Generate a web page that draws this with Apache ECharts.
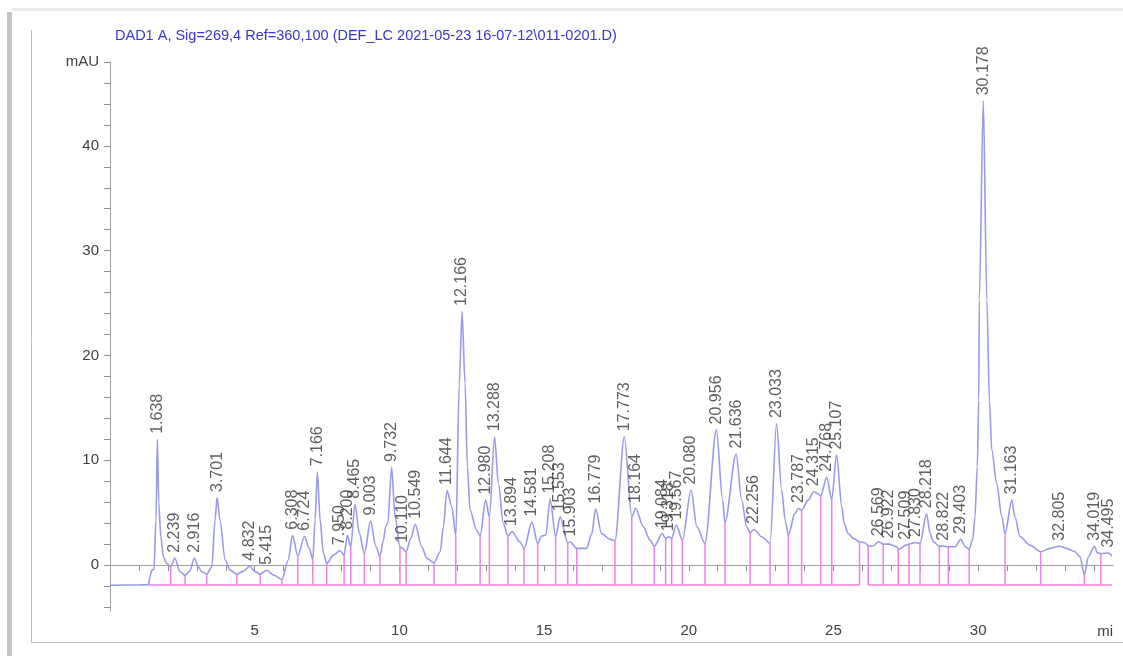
<!DOCTYPE html>
<html>
<head>
<meta charset="utf-8">
<script src="https://cdn.jsdelivr.net/npm/echarts@6/dist/echarts.min.js"></script>
<style>
  html, body { margin: 0; padding: 0; background: #ffffff; }
  #chart { width: 1123px; height: 656px; }
</style>
</head>
<body>
<div id="chart"></div>
<script>
// Signal header
const signalTitle = 'DAD1 A, Sig=269,4 Ref=360,100 (DEF_LC 2021-05-23 16-07-12\\011-0201.D)';

// Detector trace: retention time (min) and absorbance (mAU)
const traceTime = [
  0, 1.0, 1.25, 1.33, 1.385, 1.44, 1.52, 1.59, 1.638, 1.685, 1.755, 1.846, 1.96, 2.10,
  2.239, 2.42, 2.595, 2.75, 2.916, 3.055, 3.17, 3.345, 3.52, 3.63, 3.701, 3.80, 3.98,
  4.15, 4.38, 4.6, 4.832, 5.0, 5.19, 5.415, 5.65, 5.94, 6.16, 6.308, 6.49, 6.724, 6.88,
  7.01, 7.087, 7.166, 7.26, 7.375, 7.49, 7.72, 7.95, 8.09, 8.2, 8.32, 8.465, 8.62, 8.79,
  9.003, 9.19, 9.33, 9.45, 9.53, 9.60, 9.732, 9.85, 10.02, 10.11, 10.23, 10.40, 10.549,
  10.77, 10.95, 11.2, 11.41, 11.52, 11.644, 11.81, 11.95, 12.07, 12.166, 12.27, 12.35,
  12.44, 12.67, 12.79, 12.98, 13.11, 13.288, 13.42, 13.59, 13.75, 13.894, 14.17, 14.31,
  14.581, 14.78, 14.92, 15.06, 15.208, 15.40, 15.553, 15.82, 15.903, 16.13, 16.47, 16.65,
  16.779, 16.99, 17.28, 17.45, 17.773, 18.03, 18.164, 18.43, 18.66, 18.81, 19.084, 19.2,
  19.318, 19.41, 19.567, 19.78, 20.08, 20.28, 20.56, 20.956, 21.17, 21.25, 21.636, 21.83,
  22.0, 22.12, 22.256, 22.52, 22.81, 23.033, 23.21, 23.33, 23.44, 23.67, 23.787, 23.9,
  24.13, 24.315, 24.48, 24.56, 24.768, 24.94, 25.107, 25.29, 25.37, 25.51, 25.69, 25.9,
  26.09, 26.2, 26.35, 26.569, 26.72, 26.922, 27.19, 27.24, 27.509, 27.61, 27.83, 27.99,
  28.218, 28.34, 28.45, 28.66, 28.822, 28.97, 29.2, 29.403, 29.55, 29.69, 29.81, 29.89,
  29.97, 30.02, 30.04, 30.178, 30.30, 30.39, 30.47, 30.64, 30.82, 30.93, 31.163, 31.27,
  31.45, 31.79, 32.16, 32.48, 32.805, 33.06, 33.35, 33.52, 33.67, 33.81, 34.019, 34.12,
  34.24, 34.495, 34.62
];
const traceSignal = [
  -1.92, -1.9, -1.88, -1.85, -1.1, -0.5, -0.4, 4.3, 12.0, 6.0, 2.7, 0.8, 0.16, -0.16,
  0.65, -0.64, -0.98, -0.6, 0.65, -0.16, -0.64, -0.86, -0.16, 4.3, 6.45, 4.3, 0.48,
  -0.48, -0.86, -0.6, -0.1, -0.6, -0.86, -0.5, -0.95, -1.37, 0.48, 2.85, 0.86, 2.75, 1.6,
  0.54, 4.3, 8.9, 4.3, 1.1, 0.16, 0.95, 1.37, 0.95, 2.85, 1.75, 5.8, 3.0, 1.1,
  4.2, 1.75, 0.86, 2.4, 3.7, 4.0, 9.3, 4.6, 1.75, 1.6, 1.27, 2.6, 3.9,
  1.75, 0.64, 0.22, 1.27, 3.66, 7.1, 5.57, 2.77, 17.3, 24.2, 17.3, 9.4,
  5.25, 3.34, 2.77, 6.2, 4.6, 12.25, 7.8, 4.0, 2.77, 3.2, 2.2, 1.59,
  4.1, 2.07, 2.77, 2.86, 6.3, 2.7, 4.6, 2.13, 2.2, 1.59, 1.59, 3.0,
  5.35, 3.0, 2.45, 2.32, 12.25, 4.6, 5.4, 3.66, 2.39, 1.81, 3.0, 2.55,
  2.7, 2.55, 3.82, 2.39, 7.16, 3.66, 2.07, 12.9, 6.2, 4.04, 10.6, 6.2,
  3.66, 3.1, 3.4, 2.7, 2.07, 13.5, 7.16, 4.3, 2.86, 4.93, 5.4, 5.25,
  6.2, 7.0, 6.78, 6.6, 8.37, 6.27, 10.5, 5.57, 3.98, 3.0, 2.55, 2.22,
  2.13, 1.85, 1.8, 2.22, 2.0, 2.0, 1.75, 1.5, 1.9, 2.0, 2.15, 2.07,
  4.9, 3.0, 2.22, 1.81, 1.8, 1.75, 1.75, 2.45, 1.75, 1.53, 2.4, 4.6,
  9.4, 15.75, 25.3, 44.3, 25.3, 15.75, 11.0, 7.8, 4.6, 3.0, 6.2, 4.6,
  2.7, 1.9, 1.27, 1.59, 1.8, 1.59, 1.27, 0.8, -0.95, 0.8, 1.8, 1.17,
  1.1, 1.15, 0.86
];

// Integrated peaks: retention time labels and apex heights (mAU)
const peakLabels = [
  '1.638', '2.239', '2.916', '3.701', '4.832', '5.415', '6.308', '6.724', '7.166', '7.950',
  '8.200', '8.465', '9.003', '9.732', '10.110', '10.549', '11.644', '12.166', '12.980', '13.288',
  '13.894', '14.581', '15.208', '15.553', '15.903', '16.779', '17.773', '18.164', '19.084', '19.318',
  '19.567', '20.080', '20.956', '21.636', '22.256', '23.033', '23.787', '24.315', '24.768', '25.107',
  '26.569', '26.922', '27.509', '27.830', '28.218', '28.822', '29.403', '30.178', '31.163', '32.805',
  '34.019', '34.495'
];
const peakHeights = [
  12.0, 0.65, 0.65, 6.45, -0.1, -0.5, 2.85, 2.75, 8.9, 1.37,
  2.85, 5.8, 4.2, 9.3, 1.6, 3.9, 7.1, 24.2, 6.2, 12.25,
  3.2, 4.1, 6.3, 4.6, 2.2, 5.35, 12.25, 5.4, 3.0, 2.7,
  3.82, 7.16, 12.9, 10.6, 3.4, 13.5, 5.4, 7.0, 8.37, 10.5,
  2.22, 2.0, 1.9, 2.15, 4.9, 1.8, 2.45, 44.3, 6.2, 1.8,
  1.8, 1.15
];

// Integration baseline level and the peak boundary drop lines (min)
const baselineLevel = -1.9;
const baselineSegments = [[1.33, 25.9], [26.2, 34.62]];
const dropTimes = [
  2.10, 2.595, 3.345, 4.38, 5.19, 5.94, 6.49, 7.01, 7.49, 8.09, 8.32, 8.79, 9.33, 10.02,
  10.23, 11.2, 11.95, 12.79, 13.11, 13.75, 14.31, 14.78, 15.40, 15.82, 16.13, 17.45, 18.03,
  18.81, 19.2, 19.41, 19.78, 20.56, 21.25, 22.12, 22.81, 23.44, 23.9, 24.56, 24.94, 25.9,
  26.2, 26.72, 27.24, 27.61, 27.99, 28.66, 28.97, 29.69, 30.93, 32.16, 33.67, 34.24
];

// Axis ranges
const timeMax = 34.66;
const mauMin = -4, mauMax = 48, mauStep = 2;
const unitLabel = 'mAU';
const timeUnitLabel = 'mi';

// Signal value at a given time on the trace (for drop-line tops)
function signalAt(t) {
  for (let i = 1; i < traceTime.length; i++) {
    if (traceTime[i] >= t) {
      const t0 = traceTime[i - 1], t1 = traceTime[i];
      const f = t1 === t0 ? 0 : (t - t0) / (t1 - t0);
      return traceSignal[i - 1] + f * (traceSignal[i] - traceSignal[i - 1]);
    }
  }
  return traceSignal[traceSignal.length - 1];
}

const traceData = traceTime.map((t, i) => [t, traceSignal[i]]);
const dropData = dropTimes.map(t => [t, signalAt(t)]);
const baselineData = [];
baselineSegments.forEach((seg, i) => {
  if (i > 0) baselineData.push([seg[0] - 0.01, '-']);
  baselineData.push([seg[0], baselineLevel], [seg[1], baselineLevel]);
});
const peakData = peakLabels.map((s, i) => ({ name: s, value: [parseFloat(s), peakHeights[i]] }));

const sansFont = '"Liberation Sans", Arial, sans-serif';

const chart = echarts.init(document.getElementById('chart'), null, { renderer: 'canvas' });

chart.setOption({
  animation: false,
  backgroundColor: '#ffffff',
  graphic: [
    // panel shadow and frame
    { type: 'rect', shape: { x: 7, y: 12, width: 5, height: 644 }, style: { fill: '#c4c4c4' }, silent: true },
    { type: 'rect', shape: { x: 12, y: 8, width: 1111, height: 3 }, style: { fill: '#ececec' }, silent: true },
    { type: 'line', shape: { x1: 31.5, y1: 30, x2: 31.5, y2: 642.5 }, style: { stroke: '#bdbdbd', lineWidth: 1 }, silent: true },
    { type: 'line', shape: { x1: 31, y1: 642.5, x2: 1123, y2: 642.5 }, style: { stroke: '#bdbdbd', lineWidth: 1 }, silent: true },
    // corner joining the value axis to the offset time axis
    { type: 'line', shape: { x1: 110.5, y1: 606, x2: 110.5, y2: 611.5 }, style: { stroke: '#a0a0a0', lineWidth: 1 }, silent: true },
    {
      type: 'text', left: 115, top: 28,
      style: { text: signalTitle, fill: '#3636d2', font: '14.5px ' + sansFont }
    },
    {
      type: 'text', right: 10, top: 624,
      style: { text: timeUnitLabel, fill: '#404040', font: '15px ' + sansFont }
    }
  ],
  grid: { left: 110, top: 62, width: 1003, height: 545, containLabel: false, outerBoundsMode: 'none' },
  xAxis: {
    type: 'value', min: 0, max: timeMax, interval: 1, offset: 4,
    axisLine: { lineStyle: { color: '#a0a0a0', width: 1 } },
    axisTick: { length: 6, lineStyle: { color: '#909090' } },
    axisLabel: {
      margin: 12, color: '#404040', fontFamily: sansFont, fontSize: 15,
      showMinLabel: false, showMaxLabel: false,
      formatter: v => (v > 0 && Math.abs(v % 5) < 1e-9) ? String(v) : ''
    },
    splitLine: { show: false }
  },
  yAxis: {
    type: 'value', min: mauMin, max: mauMax, interval: mauStep,
    axisLine: { show: true, lineStyle: { color: '#a0a0a0', width: 1 } },
    axisTick: { show: true, length: 6, lineStyle: { color: '#909090' } },
    axisLabel: {
      margin: 11, color: '#404040', fontFamily: sansFont, fontSize: 15,
      formatter: v => v === mauMax ? unitLabel : (v % 10 === 0 ? String(v) : '')
    },
    splitLine: { show: false }
  },
  series: [
    {
      name: 'baseline', type: 'line', data: baselineData, connectNulls: false,
      showSymbol: false, symbol: 'none', z: 1,
      lineStyle: { color: '#ee82e2', width: 1.5 }
    },
    {
      name: 'drops', type: 'custom', data: dropData, z: 2,
      renderItem: (params, api) => {
        const t = api.value(0);
        const p0 = api.coord([t, baselineLevel]);
        const p1 = api.coord([t, api.value(1)]);
        return {
          type: 'line',
          shape: { x1: p0[0], y1: p0[1], x2: p1[0], y2: p1[1] },
          style: { stroke: '#ee82e2', lineWidth: 1.5 }
        };
      }
    },
    {
      name: 'signal', type: 'line', data: traceData, z: 3,
      showSymbol: false, symbol: 'none', smooth: 0.3, smoothMonotone: 'x',
      lineStyle: { color: '#9a9ae8', width: 1.6 }
    },
    {
      name: 'peaks', type: 'scatter', data: peakData, z: 4,
      symbolSize: 1, itemStyle: { color: 'rgba(0,0,0,0)' },
      label: {
        show: true, position: 'top', distance: 5, rotate: 90,
        align: 'left', verticalAlign: 'middle',
        formatter: '{b}', color: '#363636', fontFamily: sansFont, fontSize: 16
      }
    }
  ]
});
</script>
</body>
</html>
